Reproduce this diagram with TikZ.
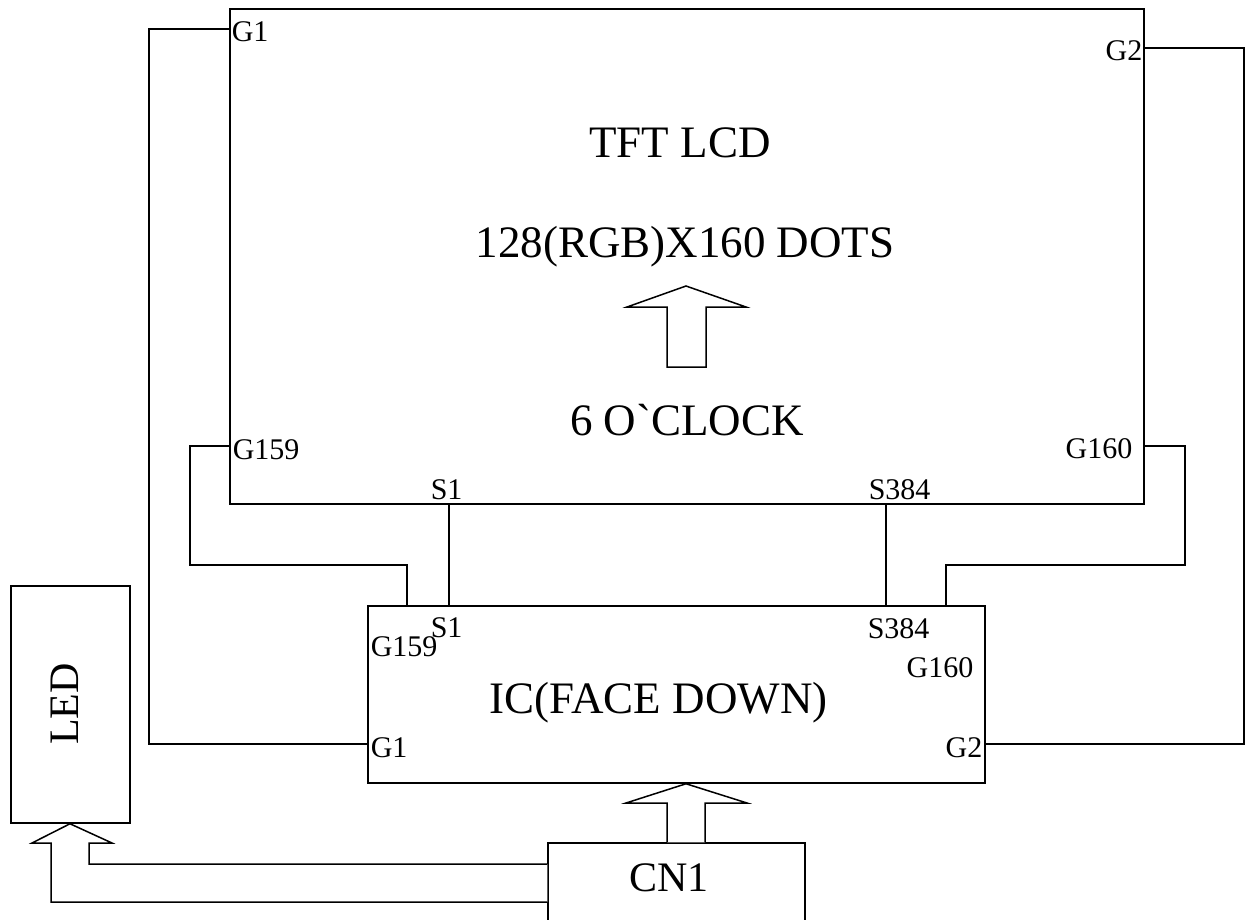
\documentclass[tikz,border=0pt]{standalone}
\usepackage{fontspec}
\setmainfont{Liberation Serif}
\newfontfamily\rawserif{Liberation Serif}
\begin{document}
\begin{tikzpicture}[x=1pt,y=-1pt,line width=1.5pt,
  box/.style={draw,rectangle,inner sep=0pt,line width=1.5pt},
  lbl/.style={inner sep=0pt,font=\fontsize{30}{36}\selectfont},
  big/.style={inner sep=0pt,font=\fontsize{45}{54}\selectfont},
  blockarrow/.style={draw,fill=white,line join=miter}]
\useasboundingbox (0,0) rectangle (1245,919);
\clip (0,0) rectangle (1245,919);
% boxes
\node[box,minimum width=914pt,minimum height=495pt] (lcd) at (687,256.5) {};
\node[box,minimum width=617pt,minimum height=177pt] (ic) at (676.5,694.5) {};
\node[box,minimum width=119pt,minimum height=237pt] (led) at (70.5,704.5) {};
\node[box,minimum width=257pt,minimum height=140pt] (cn1) at (676.5,913) {};
% main texts
\node[big,anchor=base] (t1) at (680,157) {TFT LCD};
\node[big,anchor=base] (t2) at (685,257) {128(RGB)X160 DOTS};
\node[big,anchor=base] (t3) at (687,435) {\rawserif 6 O`CLOCK};
\node[big,anchor=base west] (t4) at (489,713) {IC(FACE DOWN)};
\node[inner sep=0pt,font=\fontsize{42}{50}\selectfont,anchor=base] (t5) at (669,891) {CN1};
\node[inner sep=0pt,font=\fontsize{42}{50}\selectfont,rotate=90] (t6) at (65,704) {LED};
% pin labels
\node[lbl,anchor=base west] (p1) at (231,41) {G1};
\node[lbl,anchor=base east] (p2) at (1143,60) {G2};
\node[lbl,anchor=base west] (p3) at (232,459) {G159};
\node[lbl,anchor=base west] (p4) at (430,499) {S1};
\node[lbl,anchor=base west] (p5) at (868,499) {S384};
\node[lbl,anchor=base east] (p6) at (1133,458) {G160};
\node[lbl,anchor=base west] (q1) at (430,637) {S1};
\node[lbl,anchor=base west] (q2) at (370,656) {G159};
\node[lbl,anchor=base west] (q3) at (370,757) {G1};
\node[lbl,anchor=base west] (q4) at (867,638) {S384};
\node[lbl,anchor=base east] (q5) at (974,677) {G160};
\node[lbl,anchor=base east] (q6) at (983,757) {G2};
% connectors
\draw (lcd.west |- 0,29) -- (149,29) |- (ic.west |- 0,744);
\draw (lcd.east |- 0,48) -- (1244,48) |- (ic.east |- 0,744);
\draw (lcd.west |- 0,446) -- (190,446) |- (407,565) -- (407,0 |- ic.north);
\draw (lcd.east |- 0,446) -- (1185,446) |- (946,565) -- (946,0 |- ic.north);
\draw (449,0 |- lcd.south) -- (449,0 |- ic.north);
\draw (886,0 |- lcd.south) -- (886,0 |- ic.north);
% block arrows
\draw[blockarrow] (686,286) -- (746,307) -- (706,307) -- (706,367) -- (667,367) -- (667,307) -- (627,307) -- cycle;
\draw[blockarrow] (705,0 |- cn1.north) -- (705,803) -- (747,803) -- (686,0 |- ic.south) -- (626,803) -- (667,803) -- (667,0 |- cn1.north);
\draw[blockarrow] (cn1.west |- 0,864) -- (89,864) -- (89,843) -- (112,843) -- (70,0 |- led.south) -- (32,843) -- (51,843) -- (51,902) -- (cn1.west |- 0,902);
\end{tikzpicture}
\end{document}
